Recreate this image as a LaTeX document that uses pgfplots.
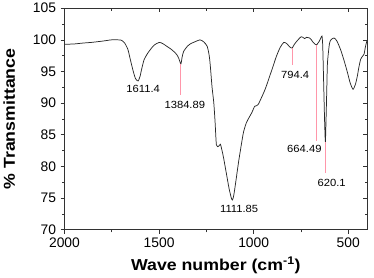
\documentclass[border=0pt]{standalone}
\usepackage{fontspec}
\setmainfont{Liberation Sans}
\usepackage{graphicx}
\usepackage{pgfplots}
\pgfplotsset{compat=1.18}
\definecolor{curve}{RGB}{40,40,40}
\definecolor{pk}{RGB}{255,150,170}
\definecolor{frame}{RGB}{50,50,50}
\newcommand{\lbl}[1]{\scalebox{1.12}[1]{\fontsize{16}{16}\selectfont\bfseries #1}}
\newcommand{\pl}[1]{\scalebox{1.08}[1]{\fontsize{10.5}{10.5}\selectfont #1}}
\begin{document}
\begin{tikzpicture}
\pgfplotsset{
  common/.style={
    width=306pt, height=224pt, scale only axis,
    x dir=reverse, xmin=400, xmax=2000, ymin=70, ymax=105,
    xtick={500,1000,1500,2000}, ytick={70,75,...,105},
    minor x tick num=1, minor y tick num=1,
    major tick length=4pt, minor tick length=2.5pt,
    axis line style={frame, line width=0.8pt},
    every tick/.style={frame, line width=0.7pt},
    /pgf/number format/assume math mode=true,
    /pgf/number format/1000 sep={},
    tick label style={font=\fontsize{14}{14}\selectfont},
  }
}
\begin{axis}[common,
    tick align=outside, xtick pos=left, ytick pos=left,
    xticklabel style={yshift=-1pt},
    yticklabel style={xshift=-1pt},
    xlabel={\lbl{Wave number (cm\textsuperscript{-1})}},
    ylabel={\lbl{\% Transmittance}},
    x label style={at={(axis description cs:0.5,-0.161)}, anchor=center},
    y label style={at={(axis description cs:-0.183,0.5)}, anchor=center, rotate=0},
  ]
\addplot[curve, line width=0.75pt, smooth, tension=0.4] coordinates {
(2000,99.3) (1950,99.35) (1900,99.5) (1857,99.6) (1800,99.8) (1752,100.0) (1720,100.0)
(1700,99.95) (1682,99.5) (1665,98.5) (1656,97.4) (1639,95.3) (1625,93.9) (1611,93.5)
(1600,94.3) (1595,95.0) (1580,96.8) (1560,97.9) (1540,98.7) (1525,99.2) (1499,99.6)
(1480,99.4) (1460,99.0) (1440,98.6) (1420,98.1) (1405,97.6) (1395,97.0) (1385,96.2)
(1378,97.3) (1370,98.2) (1350,99.0) (1333,99.4) (1310,99.7) (1284,100.0) (1265,99.7)
(1246,99.0) (1235,97.5) (1229,95.8) (1220,92.5) (1211,90.1) (1204,87.0) (1197,83.4)
(1185,83.2) (1176,83.5) (1168,82.6) (1160,81.5) (1145,79.0) (1130,76.5) (1118,75.0)
(1112,74.7) (1105,75.5) (1095,77.5) (1080,80.7) (1065,83.5) (1054,85.4) (1040,86.8)
(1025,87.7) (1010,88.5) (995,89.5) (985,89.6) (976,89.8) (960,90.8) (945,91.8)
(932,92.8) (915,94.3) (900,95.6) (880,97.4) (860,98.8) (841,99.6) (825,99.4)
(810,98.9) (797,98.7) (785,99.3) (766,100.0) (749,100.5) (740,100.4) (731,100.2)
(720,100.4) (705,100.3) (695,100.0) (688,99.7) (675,99.3) (667,99.2) (660,99.5)
(653,99.8) (645,100.3) (639,100.6) (635,99.0) (630,93.0) (625,87.0) (621,83.9)
(617,88.0) (613,93.0) (610,96.4) (600,99.3) (592,100.0) (575,100.3) (560,99.8)
(540,98.4) (520,96.5) (504,94.8) (490,93.2) (475,92.2) (462,93.0) (452,94.3)
(445,95.5) (435,96.9) (425,97.4) (417,97.7) (410,98.8) (403,99.7) (400,100.0)
};
\addplot[pk, line width=0.8pt] coordinates {(1385,96.2) (1385,91.3)};
\addplot[pk, line width=0.8pt] coordinates {(797,98.7) (797,96.1)};
\addplot[pk, line width=0.8pt] coordinates {(667,99.2) (667,84.1)};
\addplot[pk, line width=0.8pt] coordinates {(621,83.9) (621,78.9)};
\node at (axis cs:1584,92.2) {\pl{1611.4}};
\node at (axis cs:1364,89.7) {\pl{1384.89}};
\node at (axis cs:1077,73.3) {\pl{1111.85}};
\node at (axis cs:781,94.4) {\pl{794.4}};
\node at (axis cs:732,82.8) {\pl{664.49}};
\node at (axis cs:588,77.45) {\pl{620.1}};
\end{axis}
\begin{axis}[common,
    tick align=inside, xtick pos=right, ytick pos=right,
    xticklabels={}, yticklabels={},
  ]
\end{axis}
\end{tikzpicture}
\end{document}
